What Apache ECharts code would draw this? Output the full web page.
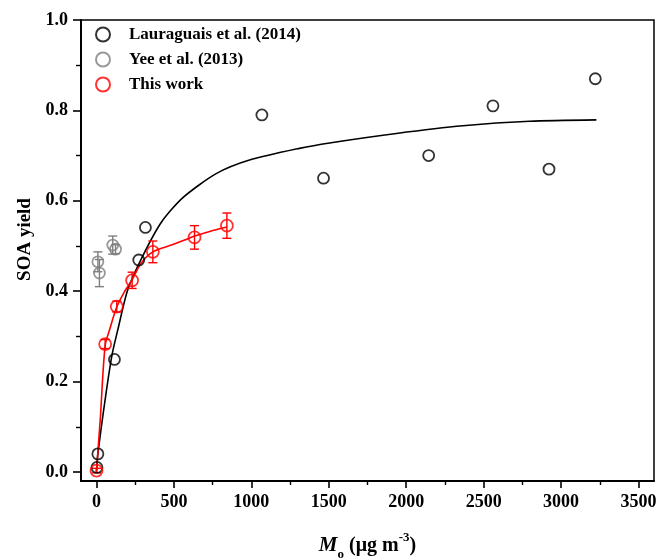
<!DOCTYPE html>
<html>
<head>
<meta charset="utf-8">
<script src="https://cdn.jsdelivr.net/npm/echarts@6/dist/echarts.min.js"></script>
<style>html,body{margin:0;padding:0;background:#fff}#c{width:661px;height:560px}</style>
</head>
<body>
<div id="c"></div>
<script>
// ---- data ----
const seriesNames = ['Lauraguais et al. (2014)', 'Yee et al. (2013)', 'This work'];

const laurX = [3, 9, 116, 273, 316, 1068, 1466, 2145, 2560, 2922, 3221];
const laurY = [0.01, 0.04, 0.249, 0.469, 0.541, 0.79, 0.65, 0.70, 0.81, 0.67, 0.87];

const yeeX = [9, 19, 105, 123];
const yeeY = [0.465, 0.44, 0.502, 0.493];
const yeeErr = [0.022, 0.03, 0.02, 0.01];

const thisX = [0, 56, 131, 230, 364, 633, 842];
const thisY = [0.003, 0.283, 0.366, 0.424, 0.487, 0.519, 0.545];
const thisErr = [0.005, 0.01, 0.012, 0.018, 0.024, 0.026, 0.028];

// fitted curves
const laurFitX = [0, 9, 60, 101, 138, 202, 299, 420, 558, 773, 988, 1311, 1505, 1936, 2366, 2797, 3228];
const laurFitY = [0, 0.04, 0.17, 0.26, 0.315, 0.403, 0.478, 0.553, 0.607, 0.66, 0.69, 0.716, 0.728, 0.749, 0.766, 0.776, 0.779];
const thisFitX = [0, 25, 56, 84, 131, 181, 230, 288, 364, 493, 569, 633, 730, 842];
const thisFitY = [0.003, 0.12, 0.28, 0.314, 0.365, 0.399, 0.425, 0.462, 0.487, 0.503, 0.513, 0.522, 0.532, 0.542];

// axis ticks
const xMajor = [0, 500, 1000, 1500, 2000, 2500, 3000, 3500];
const xMinor = [250, 750, 1250, 1750, 2250, 2750, 3250];
const yMajor = [0, 0.2, 0.4, 0.6, 0.8, 1.0];
const yMinor = [0.1, 0.3, 0.5, 0.7, 0.9];

// ---- chart ----
const FONT = '"Liberation Serif", "DejaVu Serif", serif';
const zip = (a, b) => a.map((v, i) => [v, b[i]]);
const zip3 = (a, b, c) => a.map((v, i) => [v, b[i], c[i]]);

function errRender(color) {
  return function (params, api) {
    const x = api.value(0), y = api.value(1), e = api.value(2);
    const t = api.coord([x, y + e]);
    const b = api.coord([x, y - e]);
    const hw = 4.5;
    const st = { stroke: color, lineWidth: 1.4 };
    return {
      type: 'group',
      children: [
        { type: 'line', shape: { x1: t[0], y1: t[1], x2: b[0], y2: b[1] }, style: st },
        { type: 'line', shape: { x1: t[0] - hw, y1: t[1], x2: t[0] + hw, y2: t[1] }, style: st },
        { type: 'line', shape: { x1: b[0] - hw, y1: b[1], x2: b[0] + hw, y2: b[1] }, style: st }
      ]
    };
  };
}

const chart = echarts.init(document.getElementById('c'), null, { renderer: 'canvas' });
const axisLabelStyle = { fontFamily: FONT, fontWeight: 'bold', fontSize: 18, color: '#000' };

chart.setOption({
  backgroundColor: '#fff',
  animation: false,
  grid: {
    left: 81, right: 7, top: 20, bottom: 79, containLabel: false, outerBoundsMode: 'none',
    show: true, borderColor: '#000', borderWidth: 1.5, backgroundColor: 'transparent'
  },
  legend: {
    data: seriesNames,
    orient: 'vertical',
    left: 90,
    top: 21,
    itemWidth: 14,
    itemHeight: 14,
    itemGap: 8,
    textStyle: { fontFamily: FONT, fontWeight: 'bold', fontSize: 17, color: '#000', padding: [0, 0, 0, 14] }
  },
  xAxis: [
    {
      type: 'value', min: -100, max: 3600, position: 'bottom',
      name: '{i|M}{sub|o}{n| (μg m}{sup|-3}{n|)}',
      nameLocation: 'middle', nameGap: 50,
      nameTextStyle: {
        fontFamily: FONT, fontWeight: 'bold', fontSize: 20, color: '#000',
        rich: {
          i: { fontFamily: FONT, fontWeight: 'bold', fontStyle: 'italic', fontSize: 21, lineHeight: 30, verticalAlign: 'middle' },
          n: { fontFamily: FONT, fontWeight: 'bold', fontSize: 20, lineHeight: 30, verticalAlign: 'middle' },
          sub: { fontFamily: FONT, fontWeight: 'bold', fontSize: 13, lineHeight: 13, verticalAlign: 'bottom' },
          sup: { fontFamily: FONT, fontWeight: 'bold', fontSize: 13, lineHeight: 17, verticalAlign: 'top' }
        }
      },
      axisLine: { show: true, onZero: false, lineStyle: { color: '#000', width: 2 } },
      axisTick: { show: true, inside: false, length: 7, customValues: xMajor, lineStyle: { color: '#000', width: 1.6 } },
      axisLabel: { show: true, margin: 12, customValues: xMajor, formatter: v => String(v), ...axisLabelStyle },
      splitLine: { show: false }
    },
    {
      type: 'value', min: -100, max: 3600, position: 'bottom',
      axisLine: { show: false, onZero: false },
      axisTick: { show: true, inside: false, length: 4, customValues: xMinor, lineStyle: { color: '#000', width: 1.4 } },
      axisLabel: { show: false },
      splitLine: { show: false }
    }
  ],
  yAxis: [
    {
      type: 'value', min: -0.02, max: 1.0, position: 'left',
      name: 'SOA yield', nameLocation: 'middle', nameGap: 45, nameRotate: 90,
      nameTextStyle: { fontFamily: FONT, fontWeight: 'bold', fontSize: 19, color: '#000', padding: [0, 0, 0, 22] },
      axisLine: { show: true, onZero: false, lineStyle: { color: '#000', width: 2 } },
      axisTick: { show: true, inside: false, length: 8, customValues: yMajor, lineStyle: { color: '#000', width: 1.6 } },
      axisLabel: { show: true, margin: 13, customValues: yMajor, formatter: v => v.toFixed(1), ...axisLabelStyle },
      splitLine: { show: false }
    },
    {
      type: 'value', min: -0.02, max: 1.0, position: 'left',
      axisLine: { show: false, onZero: false },
      axisTick: { show: true, inside: false, length: 5, customValues: yMinor, lineStyle: { color: '#000', width: 1.4 } },
      axisLabel: { show: false },
      splitLine: { show: false }
    }
  ],
  series: [
    {
      name: 'laurFit', type: 'line', data: zip(laurFitX, laurFitY), showSymbol: false, symbol: 'none',
      smooth: 0.25, lineStyle: { color: '#000', width: 1.6 }, z: 2, silent: true
    },
    {
      name: 'thisFit', type: 'line', data: zip(thisFitX, thisFitY), showSymbol: false, symbol: 'none',
      smooth: 0.35, lineStyle: { color: '#ff0000', width: 1.6 }, z: 2, silent: true
    },
    {
      name: 'yeeErr', type: 'custom', renderItem: errRender('#7f7f7f'), data: zip3(yeeX, yeeY, yeeErr),
      encode: { x: 0, y: 1 }, z: 3, silent: true
    },
    {
      name: 'thisErr', type: 'custom', renderItem: errRender('#ff0000'), data: zip3(thisX, thisY, thisErr),
      encode: { x: 0, y: 1 }, z: 3, silent: true
    },
    {
      name: seriesNames[0], type: 'scatter', data: zip(laurX, laurY), symbol: 'circle', symbolSize: 11,
      itemStyle: { color: 'rgba(255,255,255,0)', borderColor: '#000', borderWidth: 1.8 }, z: 4
    },
    {
      name: seriesNames[1], type: 'scatter', data: zip(yeeX, yeeY), symbol: 'circle', symbolSize: 11,
      itemStyle: { color: 'rgba(255,255,255,0)', borderColor: '#7f7f7f', borderWidth: 1.8 }, z: 4
    },
    {
      name: seriesNames[2], type: 'scatter', data: zip(thisX, thisY), symbol: 'circle', symbolSize: 12,
      itemStyle: { color: 'rgba(255,255,255,0)', borderColor: '#ff0000', borderWidth: 1.8 }, z: 5
    }
  ]
});
</script>
</body>
</html>
